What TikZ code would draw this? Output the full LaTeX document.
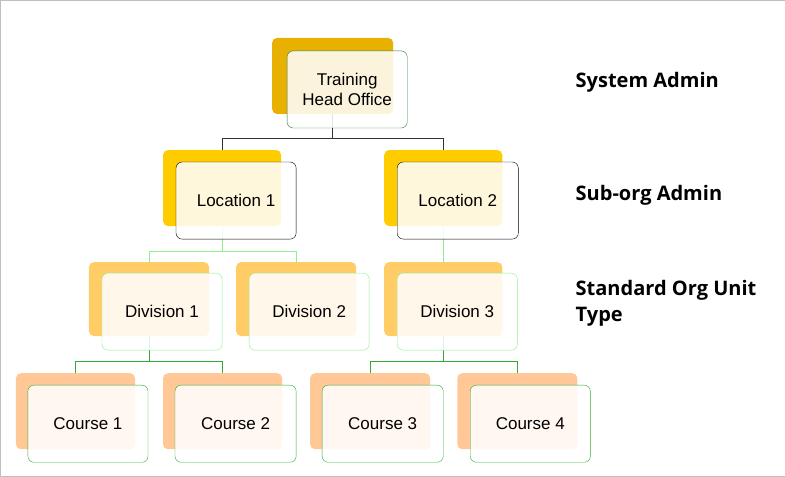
\documentclass[tikz,border=0pt]{standalone}
\usepackage{fontspec}
\usetikzlibrary{calc}
\setmainfont{Liberation Sans}
\newfontfamily\lblfont{Open Sans}
\pgfdeclarelayer{bgl}\pgfdeclarelayer{midl}
\pgfsetlayers{bgl,midl,main}
\begin{document}
\begin{tikzpicture}[x=1pt,y=-1pt,
  back/.style={rectangle,rounded corners=5pt,minimum width=120pt,minimum height=76pt,anchor=north west,inner sep=0pt},
  front/.style={rectangle,rounded corners=6pt,minimum width=120pt,minimum height=77pt,anchor=north west,fill=white,fill opacity=0.86,text opacity=1,font=\fontsize{17}{19.5}\selectfont,align=center,inner sep=0pt},
  lbl/.style={anchor=west,font=\lblfont\bfseries\fontsize{20}{26}\selectfont,align=left}]
\definecolor{gA}{HTML}{E8B000}\definecolor{gB}{HTML}{FFCC00}\definecolor{gC}{HTML}{FFCC66}\definecolor{gD}{HTML}{FFC896}
\definecolor{dg}{HTML}{2E7D32}\definecolor{lg}{HTML}{90EE90}\definecolor{mg}{HTML}{33AA33}
\draw[gray!50] (0.5,0.5) rectangle (784.5,476.5);
\begin{pgfonlayer}{bgl}
\node[back,fill=gA,minimum width=121pt] (hb) at (272,38) {};
\node[back,fill=gB,minimum width=118pt] (l1b) at (163,150) {};
\node[back,fill=gB,minimum width=118pt] (l2b) at (384,150) {};
\node[back,fill=gC,minimum height=74pt] (d1b) at (89,262) {};
\node[back,fill=gC,minimum height=74pt] (d2b) at (236,262) {};
\node[back,fill=gC,minimum width=118pt,minimum height=74pt] (d3b) at (384,262) {};
\node[back,fill=gD,minimum width=119pt] (c1b) at (16,373) {};
\node[back,fill=gD,minimum width=119pt] (c2b) at (163,373) {};
\node[back,fill=gD] (c3b) at (310,373) {};
\node[back,fill=gD] (c4b) at (457,373) {};
\end{pgfonlayer}
\node[front,draw=dg] (h) at (287,51) {Training\\Head Office};
\node[front,draw=black] (l1) at (176,162) {Location 1};
\node[front,draw=black,minimum width=121pt] (l2) at (397,162) {Location 2};
\node[front,draw=lg] (d1) at (102,273) {Division 1};
\node[front,draw=lg] (d2) at (249,273) {Division 2};
\node[front,draw=lg] (d3) at (397,273) {Division 3};
\node[front,draw=mg] (c1) at (28,385) {Course 1};
\node[front,draw=mg,minimum width=121pt] (c2) at (175,385) {Course 2};
\node[front,draw=mg,minimum width=121pt] (c3) at (322,385) {Course 3};
\node[front,draw=mg] (c4) at (470,385) {Course 4};
\begin{pgfonlayer}{midl}
\draw[black!80] (hb.south) -- ($(hb.south |- h.south)+(0,10)$) -| (l1b.north);
\draw[black!80] ($(hb.south |- h.south)+(0,10)$) -| (l2b.north);
\draw[lg] (l1b.south) -- ($(l1b.south |- l1.south)+(0,12)$) -| (d1b.north);
\draw[lg] ($(l1b.south |- l1.south)+(0,12)$) -| (d2b.north);
\draw[lg] (l2b.south) -- (d3b.north);
\draw[mg] (d1b.south) -- ($(d1b.south |- d1.south)+(0,11)$) -| (c1b.north);
\draw[mg] ($(d1b.south |- d1.south)+(0,11)$) -| (c2b.north);
\draw[mg] (d3b.south) -- ($(d3b.south |- d3.south)+(0,11)$) -| (c3b.north);
\draw[mg] ($(d3b.south |- d3.south)+(0,11)$) -| (c4b.north);
\end{pgfonlayer}
\node[lbl] (t1) at (572,83) {System Admin};
\node[lbl] (t2) at (572,195) {Sub-org Admin};
\node[lbl] (t3) at (572,303) {Standard Org Unit\\Type};
\end{tikzpicture}
\end{document}
